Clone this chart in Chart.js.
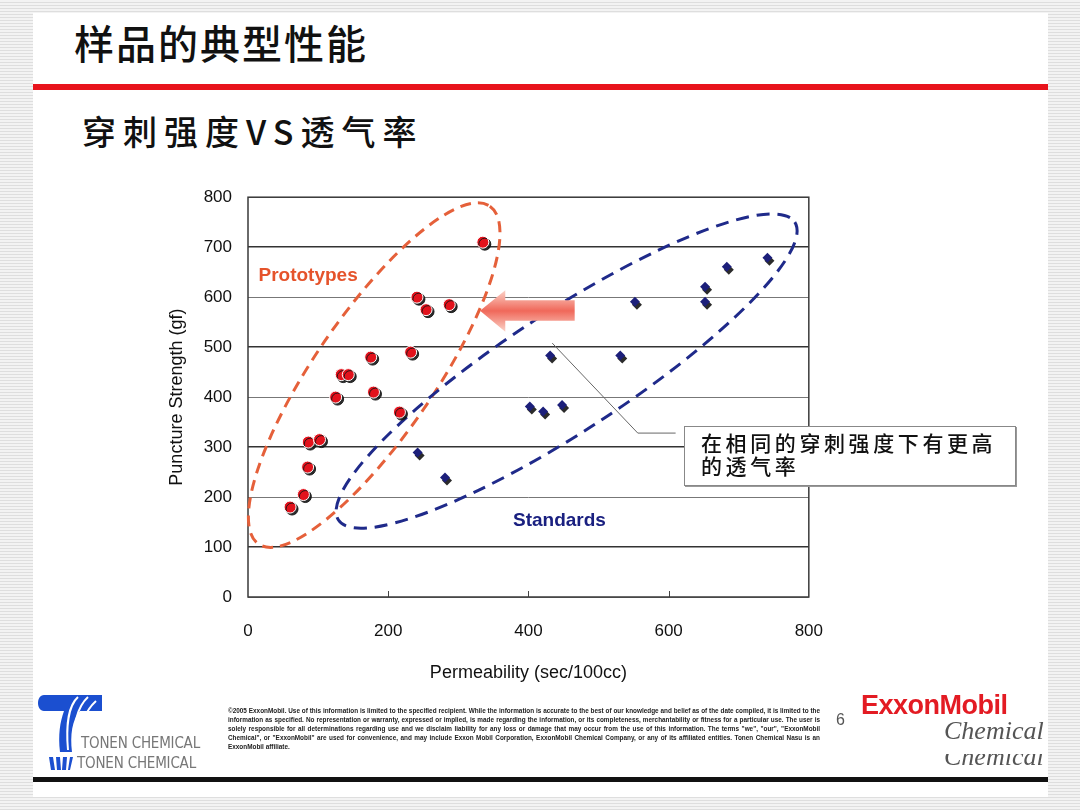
<!DOCTYPE html>
<html>
<head>
<meta charset="utf-8">
<script src="https://cdn.jsdelivr.net/npm/chart.js@4.4.1/dist/chart.umd.min.js"></script>
<style>
    html, body { margin: 0; padding: 0; }
    body {
        width: 1080px; height: 810px; position: relative; overflow: hidden;
        background: repeating-linear-gradient(to bottom, #f3f3f3 0px, #f3f3f3 2px, #dedede 2px, #dedede 3px);
        font-family: "Liberation Sans", Arial, sans-serif;
    }
    #slide { position: absolute; left: 33px; top: 13px; width: 1015px; height: 784px; background: #fff; }
    .title {
        position: absolute; left: 74px; top: 18px; font-family: "Noto Sans CJK SC", sans-serif;
        font-size: 40px; line-height: 48px; letter-spacing: 2px; color: #111; font-weight: 500;
    }
    .subtitle {
        position: absolute; left: 82px; top: 106px; font-family: "Noto Sans CJK SC", sans-serif;
        font-size: 34px; line-height: 50px; letter-spacing: 7px; color: #111; font-weight: 500;
    }
    #redline { position: absolute; left: 33px; top: 84px; width: 1015px; height: 6px; background: #e8141c; }
    #chartBox { position: absolute; left: 150px; top: 171px; width: 697px; height: 529px; }
    #callout {
        position: absolute; left: 684px; top: 426px; width: 314px; height: 50px;
        border: 1px solid #888; box-shadow: 1px 1px 0 #999; background: #fff;
        padding: 4px 0 4px 16px; font-family: "Noto Sans CJK SC", sans-serif; font-weight: 500;
        font-size: 21px; line-height: 23px; letter-spacing: 3.6px; color: #111;
    }
    #blackline { position: absolute; left: 33px; top: 777px; width: 1015px; height: 5px; background: #111; }
    .tonen { position: absolute; font-size: 15px; color: #777; letter-spacing: -0.2px; font-family: "DejaVu Sans Condensed", "Liberation Sans Narrow", sans-serif; font-weight: 200; }
    #fine {
        position: absolute; left: 228px; top: 706px; width: 592px; font-size: 6.4px; line-height: 9px;
        font-weight: bold; color: #222; text-align: justify;
    }
    #page { position: absolute; left: 836px; top: 711px; font-size: 16px; color: #555; }
    #xom { position: absolute; left: 861px; top: 690px; font-size: 27px; font-weight: bold; color: #e31b23; letter-spacing: -0.5px; }
    .chem { position: absolute; left: 944px; font-family: "Liberation Serif", serif; font-style: italic; font-size: 26px; color: #555; }
    #ghost { position: absolute; left: 930px; top: 754px; width: 120px; height: 12px; overflow: hidden; }
</style>
</head>
<body>
<div id="slide"></div>
<div class="title">样品的典型性能</div>
<div id="redline"></div>
<div class="subtitle">穿刺强度VS透气率</div>
<div id="chartBox"><canvas id="scatterChart"></canvas></div>
<div id="callout">在相同的穿刺强度下有更高<br>的透气率</div>

<svg style="position:absolute;left:0;top:0" width="1080" height="810">
    <path d="M44,695 L102,695 L102,711 L80,711 C72,720 70,735 72,752 L60,752 C58,735 60,722 64,711 L44,711 C36,711 36,695 44,695 Z" fill="#1b4fd0"/>
    <path d="M78,697 C68,706 66,728 68,750" stroke="#fff" stroke-width="2" fill="none"/>
    <path d="M88,697 C76,708 73,728 74,750" stroke="#fff" stroke-width="2" fill="none"/>
    <path d="M96,701 C84,712 80,728 80,742" stroke="#fff" stroke-width="2" fill="none"/>
    <path d="M49,757 L53,757 L55,770 L51,770 Z M56,757 L60,757 L61,770 L57,770 Z M63,757 L67,757 L66,770 L62,770 Z M70,757 L73,757 L70,770 L68,770 Z" fill="#1b4fd0"/>
</svg>
<div class="tonen" style="left:81px;top:734px;">TONEN CHEMICAL</div>
<div class="tonen" style="left:77px;top:754px;">TONEN CHEMICAL</div>
<div id="fine">©2005 ExxonMobil. Use of this information is limited to the specified recipient. While the information is accurate to the best of our knowledge and belief as of the date compiled, it is limited to the information as specified. No representation or warranty, expressed or implied, is made regarding the information, or its completeness, merchantability or fitness for a particular use. The user is solely responsible for all determinations regarding use and we disclaim liability for any loss or damage that may occur from the use of this information. The terms "we", "our", "ExxonMobil Chemical", or "ExxonMobil" are used for convenience, and may include Exxon Mobil Corporation, ExxonMobil Chemical Company, or any of its affiliated entities. Tonen Chemical Nasu is an ExxonMobil affiliate.</div>
<div id="page">6</div>
<div id="xom">ExxonMobil</div>
<div class="chem" style="top:716px;">Chemical</div>
<div id="ghost"><div class="chem" style="left:14px;top:-12px;">Chemical</div></div>
<div id="blackline"></div>

<script>
// Prototypes (red circles)
const protoX = [335, 241, 254, 287, 232, 175, 133, 143, 125, 179, 216, 86, 102, 85, 79, 60];
const protoY = [710, 600, 575, 585, 490, 480, 445, 445, 400, 410, 370, 310, 315, 260, 205, 180];

// Standards (navy diamonds)
const stdX = [741, 683, 652, 652, 552, 431, 531, 402, 421, 448, 242, 281];
const stdY = [679, 661, 621, 591, 591, 483, 483, 381, 371, 384, 289, 239];

const xTicks = [0, 200, 400, 600, 800];
const yTicks = [0, 100, 200, 300, 400, 500, 600, 700, 800];

const toPoints = (xs, ys) => xs.map((x, i) => ({ x: x, y: ys[i] }));

// Marker shadows
const shadowPlugin = {
    id: 'shadowPlugin',
    beforeDatasetDraw(chart, args) {
        const ctx = chart.ctx;
        ctx.save();
        ctx.shadowColor = 'rgba(20,20,20,0.9)';
        ctx.shadowBlur = 0;
        ctx.shadowOffsetX = 2;
        ctx.shadowOffsetY = args.index === 0 ? 2 : 3;
    },
    afterDatasetDraw(chart) {
        chart.ctx.restore();
    }
};

// Dashed groups, arrow, labels and the callout line
const notesPlugin = {
    id: 'notesPlugin',
    beforeDatasetsDraw(chart) {
        const ctx = chart.ctx;
        const xs = chart.scales.x, ys = chart.scales.y;
        const area = chart.chartArea;
        const px = v => xs.getPixelForValue(v);
        const py = v => ys.getPixelForValue(v);

        // small inner ticks on the x axis
        ctx.save();
        ctx.strokeStyle = '#444';
        ctx.lineWidth = 1;
        xTicks.slice(1, -1).forEach(t => {
            ctx.beginPath();
            ctx.moveTo(Math.round(px(t)) + 0.5, area.bottom);
            ctx.lineTo(Math.round(px(t)) + 0.5, area.bottom - 6);
            ctx.stroke();
        });
        ctx.restore();

        // plot frame
        ctx.save();
        ctx.strokeStyle = '#3a3a3a';
        ctx.lineWidth = 1.5;
        ctx.strokeRect(area.left, area.top, area.right - area.left, area.bottom - area.top);
        ctx.restore();

        const drawGroup = (x1, y1, x2, y2, half, color, dash) => {
            const ax = px(x1), ay = py(y1), bx = px(x2), by = py(y2);
            const cx = (ax + bx) / 2, cy = (ay + by) / 2;
            const a = Math.hypot(bx - ax, by - ay) / 2;
            ctx.save();
            ctx.strokeStyle = color;
            ctx.lineWidth = 3;
            ctx.setLineDash(dash);
            ctx.beginPath();
            ctx.ellipse(cx, cy, a, half, Math.atan2(by - ay, bx - ax), 0, Math.PI * 2);
            ctx.stroke();
            ctx.restore();
        };
        drawGroup(15, 106, 345, 782, 60, '#e5603a', [11, 7]);
        drawGroup(129, 154, 780, 750, 60, '#1f2a8a', [13, 8]);

        // block arrow pointing left
        const tipX = px(331), tipY = py(573);
        const baseX = px(367), endX = px(466);
        const bodyT = py(594), bodyB = py(553);
        const headT = py(614), headB = py(531);
        const grad = ctx.createLinearGradient(0, headT, 0, headB);
        grad.addColorStop(0, '#fbd3c8');
        grad.addColorStop(0.5, '#f0685a');
        grad.addColorStop(1, '#fbd3c8');
        ctx.save();
        ctx.fillStyle = grad;
        ctx.beginPath();
        ctx.moveTo(tipX, tipY);
        ctx.lineTo(baseX, headT);
        ctx.lineTo(baseX, bodyT);
        ctx.lineTo(endX, bodyT);
        ctx.lineTo(endX, bodyB);
        ctx.lineTo(baseX, bodyB);
        ctx.lineTo(baseX, headB);
        ctx.closePath();
        ctx.fill();
        ctx.restore();

        // callout leader
        ctx.save();
        ctx.strokeStyle = '#666';
        ctx.lineWidth = 1;
        ctx.beginPath();
        ctx.moveTo(px(434), py(508));
        ctx.lineTo(px(556), py(328));
        ctx.lineTo(px(610), py(328));
        ctx.stroke();
        ctx.restore();

        // group labels
        ctx.save();
        ctx.font = 'bold 19px "Liberation Sans", Arial, sans-serif';
        ctx.textBaseline = 'middle';
        ctx.fillStyle = '#e5532b';
        ctx.fillText('Prototypes', px(15), py(642));
        ctx.fillStyle = '#1a2080';
        ctx.fillText('Standards', px(378), py(152));
        ctx.restore();
    }
};

const ctx = document.getElementById('scatterChart').getContext('2d');
const scatterChart = new Chart(ctx, {
    type: 'scatter',
    data: {
        datasets: [{
            label: 'Prototypes',
            data: toPoints(protoX, protoY),
            pointStyle: 'circle',
            pointRadius: 6,
            backgroundColor: '#e2121c',
            borderColor: '#ffffff',
            borderWidth: 1
        }, {
            label: 'Standards',
            data: toPoints(stdX, stdY),
            pointStyle: 'rectRot',
            pointRadius: 5,
            backgroundColor: '#1c1f7a',
            borderColor: '#1c1f7a',
            borderWidth: 0
        }]
    },
    options: {
        responsive: true,
        maintainAspectRatio: false,
        animation: false,
        events: [],
        layout: { padding: 0 },
        plugins: {
            legend: { display: false },
            tooltip: { enabled: false }
        },
        scales: {
            x: {
                type: 'linear',
                min: 0,
                max: 800,
                afterBuildTicks: scale => { scale.ticks = xTicks.map(v => ({ value: v })); },
                afterFit: scale => { scale.height = 103; },
                grid: { display: false, drawTicks: false },
                border: { display: false },
                ticks: {
                    padding: 24,
                    color: '#111',
                    font: { family: '"Liberation Sans", Arial, sans-serif', size: 17 }
                },
                title: {
                    display: true,
                    text: 'Permeability (sec/100cc)',
                    color: '#111',
                    padding: { top: 0, bottom: 16 },
                    font: { family: '"Liberation Sans", Arial, sans-serif', size: 18 }
                }
            },
            y: {
                type: 'linear',
                min: 0,
                max: 800,
                afterBuildTicks: scale => { scale.ticks = yTicks.map(v => ({ value: v })); },
                afterFit: scale => { scale.width = 98; },
                grid: {
                    drawTicks: false,
                    color: c => (c.tick.value / 100) % 2 === 1 ? '#333' : '#777',
                    lineWidth: c => (c.tick.value / 100) % 2 === 1 ? 1.5 : 1
                },
                border: { display: false },
                ticks: {
                    padding: 16,
                    color: '#111',
                    font: { family: '"Liberation Sans", Arial, sans-serif', size: 17 }
                },
                title: {
                    display: true,
                    text: 'Puncture Strength (gf)',
                    color: '#111',
                    padding: { top: 16, bottom: 0 },
                    font: { family: '"Liberation Sans", Arial, sans-serif', size: 18 }
                }
            }
        }
    },
    plugins: [shadowPlugin, notesPlugin]
});
</script>
</body>
</html>
